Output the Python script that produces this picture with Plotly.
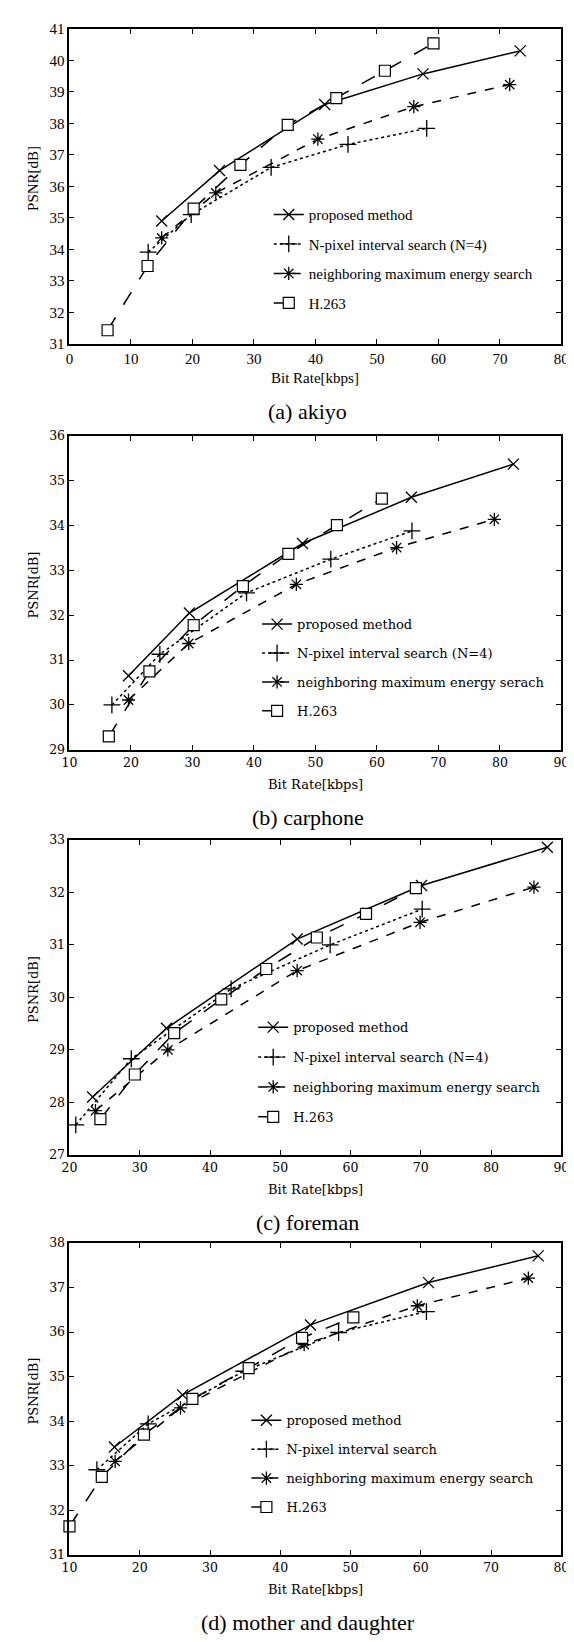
import plotly.graph_objects as go

W, H = 574, 1642

# ---------------- data ----------------
# (a) akiyo
akiyo_prop_x = [15.0, 24.4, 41.5, 57.5, 73.3]
akiyo_prop_y = [34.9, 36.5, 38.6, 39.57, 40.3]
akiyo_npix_x = [12.8, 19.8, 32.8, 45.3, 58.1]
akiyo_npix_y = [33.91, 35.1, 36.6, 37.33, 37.84]
akiyo_nme_x = [15.0, 23.8, 40.4, 56.0, 71.6]
akiyo_nme_y = [34.36, 35.79, 37.5, 38.53, 39.23]
akiyo_h263_x = [6.2, 12.7, 20.2, 27.8, 35.5, 43.4, 51.3, 59.2]
akiyo_h263_y = [31.43, 33.47, 35.29, 36.68, 37.95, 38.8, 39.67, 40.54]

# (b) carphone
car_prop_x = [19.6, 29.5, 47.9, 65.6, 82.2]
car_prop_y = [30.65, 32.05, 33.6, 34.63, 35.37]
car_npix_x = [16.9, 24.7, 38.8, 52.5, 65.7]
car_npix_y = [30.0, 31.13, 32.5, 33.25, 33.88]
car_nme_x = [19.6, 29.4, 46.9, 63.2, 79.1]
car_nme_y = [30.11, 31.37, 32.69, 33.51, 34.14]
car_h263_x = [16.4, 23.0, 30.2, 38.2, 45.6, 53.5, 60.8]
car_h263_y = [29.3, 30.75, 31.78, 32.65, 33.37, 34.01, 34.6]

# (c) foreman
for_prop_x = [23.3, 33.8, 52.4, 70.1, 88.0]
for_prop_y = [28.1, 29.41, 31.11, 32.13, 32.86]
for_npix_x = [20.9, 28.8, 43.0, 57.1, 70.2]
for_npix_y = [27.57, 28.83, 30.16, 31.0, 31.68]
for_nme_x = [23.7, 34.0, 52.4, 69.9, 86.1]
for_nme_y = [27.84, 29.0, 30.51, 31.43, 32.1]
for_h263_x = [24.4, 29.3, 34.9, 41.6, 48.0, 55.2, 62.2, 69.3]
for_h263_y = [27.68, 28.53, 29.32, 29.96, 30.54, 31.14, 31.59, 32.08]

# (d) mother and daughter
md_prop_x = [16.4, 26.1, 44.3, 61.1, 76.7]
md_prop_y = [33.42, 34.59, 36.16, 37.11, 37.71]
md_npix_x = [13.9, 21.2, 34.8, 48.3, 60.8]
md_npix_y = [32.91, 33.94, 35.12, 35.99, 36.46]
md_nme_x = [16.5, 25.8, 43.4, 59.5, 75.3]
md_nme_y = [33.1, 34.3, 35.72, 36.59, 37.21]
md_h263_x = [10.0, 14.6, 20.6, 27.5, 35.5, 43.1, 50.4]
md_h263_y = [31.64, 32.75, 33.7, 34.5, 35.19, 35.87, 36.33]

captions = ["(a) akiyo", "(b) carphone", "(c) foreman", "(d) mother and daughter"]
x_ranges = [[0, 80], [10, 90], [20, 90], [10, 80]]
y_ranges = [[31, 41], [29, 36], [27, 33], [31, 38]]
names = [
    ["proposed method", "N-pixel interval search (N=4)", "neighboring maximum energy search", "H.263"],
    ["proposed method", "N-pixel interval search (N=4)", "neighboring maximum energy serach", "H.263"],
    ["proposed method", "N-pixel interval search (N=4)", "neighboring maximum energy search", "H.263"],
    ["proposed method", "N-pixel interval search", "neighboring maximum energy search", "H.263"],
]
series = [
    [(akiyo_prop_x, akiyo_prop_y), (akiyo_npix_x, akiyo_npix_y), (akiyo_nme_x, akiyo_nme_y), (akiyo_h263_x, akiyo_h263_y)],
    [(car_prop_x, car_prop_y), (car_npix_x, car_npix_y), (car_nme_x, car_nme_y), (car_h263_x, car_h263_y)],
    [(for_prop_x, for_prop_y), (for_npix_x, for_npix_y), (for_nme_x, for_nme_y), (for_h263_x, for_h263_y)],
    [(md_prop_x, md_prop_y), (md_npix_x, md_npix_y), (md_nme_x, md_nme_y), (md_h263_x, md_h263_y)],
]

# ---------------- layout geometry (pixels) ----------------
PL, PR = 55, 561
panels_px = [(13, 331), (424, 741), (832, 1150), (1239, 1554)]
legend_px = [(260, 184), (248, 599), (244, 1006), (237, 1403)]
legend_gaps = [7, 9, 10, 9]
serif_times = "Liberation Serif"
serif_cs = "DejaVu Serif"
panel_fonts = [(serif_times, 15, 15), (serif_cs, 12.5, 13), (serif_cs, 12.5, 13), (serif_cs, 12.5, 13)]

styles = [
    dict(dash="solid", symbol="x-thin-open", size=11, color="black", lw=1.3),
    dict(dash="dot", symbol="cross-thin-open", size=12, color="black", lw=1.3),
    dict(dash="dash", symbol="asterisk-open", size=11, color="black", lw=1.3),
    dict(dash="longdash", symbol="square", size=11, color="white", lw=1.2),
]

def px_x(p):
    return p / W

def px_y(p):
    return 1 - p / H

fig = go.Figure()
layout = dict(
    width=W, height=H, margin=dict(l=0, r=0, t=0, b=0),
    paper_bgcolor="white", plot_bgcolor="white", showlegend=True,
)
annotations = []

for i in range(4):
    sfx = "" if i == 0 else str(i + 1)
    family, tsize, lsize = panel_fonts[i]
    top, bot = panels_px[i]
    for j in range(4):
        xs, ys = series[i][j]
        st = styles[j]
        fig.add_trace(go.Scatter(
            x=xs, y=ys, mode="lines+markers", name=names[i][j],
            xaxis="x" + sfx, yaxis="y" + sfx,
            legend="legend" + sfx, legendgroup=f"g{i}{j}",
            line=dict(color="black", width=1.5, dash=st["dash"]),
            marker=dict(symbol=st["symbol"], size=st["size"], color=st["color"],
                        line=dict(color="black", width=st["lw"])),
            cliponaxis=False,
        ))
    axis_common = dict(
        showgrid=False, zeroline=False, showline=True, linecolor="black", linewidth=1.8,
        mirror="ticks", ticks="inside", ticklen=5, tickwidth=1, tickcolor="black",
        tickfont=dict(family=family, size=tsize, color="black"),
    )
    layout["xaxis" + sfx] = dict(axis_common, domain=[px_x(PL), px_x(PR)], range=x_ranges[i],
                                 dtick=10, anchor="y" + sfx)
    layout["yaxis" + sfx] = dict(axis_common, domain=[px_y(bot), px_y(top)], range=y_ranges[i],
                                 dtick=1, anchor="x" + sfx)
    lx, ly = legend_px[i]
    layout["legend" + sfx] = dict(
        x=px_x(lx), y=px_y(ly), xanchor="left", yanchor="top",
        xref="paper", yref="paper",
        bgcolor="rgba(0,0,0,0)", borderwidth=0,
        font=dict(family=family, size=lsize, color="black"),
        tracegroupgap=legend_gaps[i], itemwidth=30, traceorder="grouped",
    )
    annotations.append(dict(text="PSNR[dB]", x=px_x(18), y=px_y((top + bot) / 2 - 8), xref="paper", yref="paper",
                            textangle=-90, showarrow=False, xanchor="center", yanchor="middle",
                            font=dict(family=family, size=lsize, color="black")))
    annotations.append(dict(text="Bit Rate[kbps]", x=px_x((PL + PR) / 2), y=px_y(bot + 35), xref="paper", yref="paper",
                            showarrow=False, xanchor="center", yanchor="middle",
                            font=dict(family=family, size=lsize, color="black")))
    annotations.append(dict(text=captions[i], x=px_x((PL + PR) / 2 - 8), y=px_y(bot + 68), xref="paper", yref="paper",
                            showarrow=False, xanchor="center", yanchor="middle",
                            font=dict(family=serif_times, size=22, color="black")))

layout["annotations"] = annotations
fig.update_layout(**layout)
fig.write_html("out.html")
